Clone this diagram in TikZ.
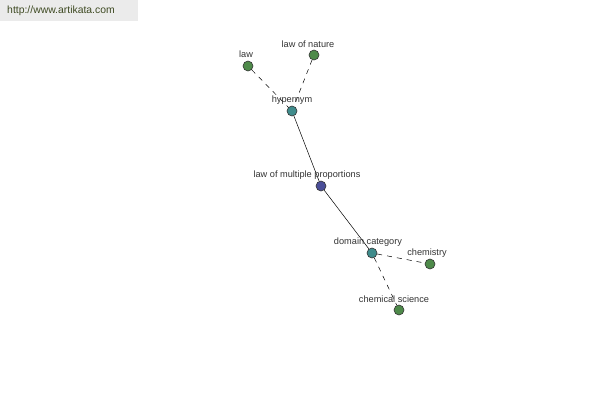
\documentclass[tikz,border=0pt]{standalone}
\usepackage{fontspec}
\setmainfont{Liberation Sans}
\definecolor{leafgreen}{HTML}{4E8A4A}
\definecolor{hubteal}{HTML}{3F8C8C}
\definecolor{rootblue}{HTML}{4A4E98}
\definecolor{marktext}{HTML}{3E4A22}
\tikzset{
  dot/.style={circle, draw=black!80, line width=0.6pt, minimum size=10pt, inner sep=0pt},
  tag/.style={font=\fontsize{9.2}{10}\selectfont, text=black!80, inner sep=0pt},
  link/.style={line width=0.5pt},
  weak/.style={line width=0.5pt, dash pattern=on 5pt off 5pt}
}
\begin{document}
\begin{tikzpicture}[x=1pt, y=-1pt]
% Frame of the picture
\useasboundingbox (0,0) rectangle (600,400);
\fill[white] (0,0) rectangle (600,400);
\fill[black!8] (0,0) rectangle (138,21);
\node[font=\fontsize{10.4}{12}\selectfont, text=marktext, inner sep=0pt] (mark) at (61,11) {http://www.artikata.com};

% Nodes
\node[dot, fill=leafgreen] (law) at (248,66) {};
\node[dot, fill=leafgreen] (nature) at (314,55) {};
\node[dot, fill=hubteal] (hyper) at (292,111) {};
\node[dot, fill=rootblue] (lomp) at (321,186) {};
\node[dot, fill=hubteal] (domain) at (372,253) {};
\node[dot, fill=leafgreen] (chem) at (430,264) {};
\node[dot, fill=leafgreen] (chemsci) at (399,310) {};

% Connectors
\draw[weak] (law) -- (hyper);
\draw[weak] (nature) -- (hyper);
\draw[link] (hyper) -- (lomp);
\draw[link] (lomp) -- (domain);
\draw[weak] (domain) -- (chem);
\draw[weak] (domain) -- (chemsci);

% Labels
\node[tag] (lawtag) at (246,54) {law};
\node[tag] (naturetag) at (308,44) {law of nature};
\node[tag] (hypertag) at (292,100) {hypernym};
\node[tag] (lomptag) at (307,175) {law of multiple proportions};
\node[tag] (domaintag) at (368,242) {domain category};
\node[tag] (chemtag) at (427,253) {chemistry};
\node[tag] (chemscitag) at (394,299) {chemical science};
\end{tikzpicture}
\end{document}
